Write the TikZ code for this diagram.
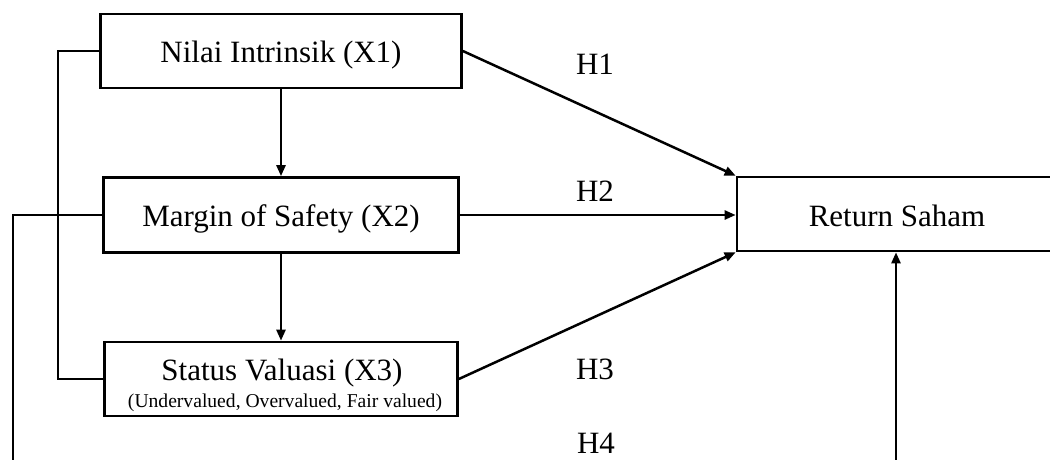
\documentclass[tikz,border=0pt]{standalone}
\usepackage{fontspec}
\setmainfont{Liberation Serif}
\usetikzlibrary{arrows.meta}
\tikzset{
  box/.style={draw, line width=2.7pt, rectangle, inner sep=0pt},
  conn/.style={line width=2.5pt},
  arr/.style={conn, -{Triangle[length=11pt,width=9pt]}},
  big/.style={font=\fontsize{31}{36}\selectfont, inner sep=0pt},
  small/.style={font=\fontsize{19.6}{22}\selectfont, inner sep=0pt},
}
\begin{document}
\begin{tikzpicture}[x=1pt,y=-1pt]
\useasboundingbox (0,0) rectangle (1050,459);
% boxes
\node[box, minimum width=361pt, minimum height=74pt] (x1) at (281,51) {};
\node[box, minimum width=355pt, minimum height=75pt] (x2) at (281,215) {};
\node[box, minimum width=353pt, minimum height=74pt] (x3) at (281,379) {};
\node[box, minimum width=320pt, minimum height=74pt] (rs) at (897,214) {};
% texts
\node[big, anchor=base] (t1) at (281,62) {Nilai Intrinsik (X1)};
\node[big, anchor=base] (t2) at (281,226) {Margin of Safety (X2)};
\node[big, anchor=base] (t3) at (282,380) {Status Valuasi (X3)};
\node[small, anchor=base] (t3s) at (285,407) {(Undervalued, Overvalued, Fair valued)};
\node[big, anchor=base] (trs) at (897,226) {Return Saham};
% hypothesis labels
\node[big] (h1) at (595,64) {H1};
\node[big] (h2) at (595,191) {H2};
\node[big] (h3) at (595,369) {H3};
\node[big] (h4) at (596,443) {H4};
% coordinates
\coordinate (bl) at (13,460);
\coordinate (br) at (896,460);
% connectors
\draw[arr] (x1.south) -- (x2.north);
\draw[arr] (x2.south) -- (x3.north);
\draw[arr] (x1.east) -- (rs.north west);
\draw[arr] (x2.east) -- (x2.east -| rs.west);
\draw[arr] (x3.east) -- (rs.south west);
\draw[conn] (x1.west) -- ++(-41,0) |- (x3.west);
\draw[conn] (x2.west) -| (bl);
\draw[arr] (br) -- (br |- rs.south);
\end{tikzpicture}
\end{document}
